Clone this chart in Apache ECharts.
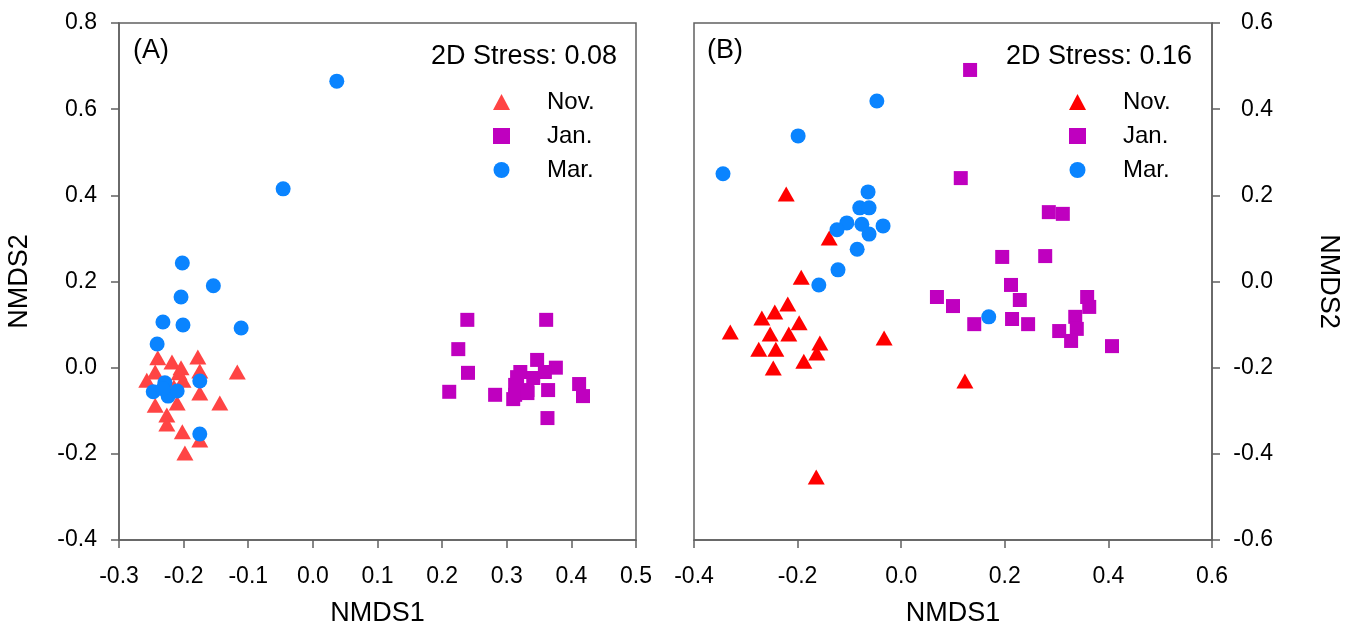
<!DOCTYPE html>
<html>
<head>
<meta charset="utf-8">
<script src="https://cdn.jsdelivr.net/npm/echarts@6/dist/echarts.min.js"></script>
<style>html,body{margin:0;padding:0;background:#fff}#c{width:1357px;height:637px}</style>
</head>
<body>
<div id="c"></div>
<script>
// Panel A
var xTicksA = [-0.3, 0.5, 0.1];   // min, max, interval
var yTicksA = [-0.4, 0.8, 0.2];
var A_nov = [[-0.240,0.023],[-0.218,0.013],[-0.178,0.025],[-0.244,-0.010],[-0.204,0.000],[-0.207,-0.012],[-0.175,-0.008],[-0.257,-0.029],[-0.201,-0.029],[-0.117,-0.010],[-0.175,-0.059],[-0.144,-0.082],[-0.244,-0.087],[-0.210,-0.082],[-0.226,-0.110],[-0.226,-0.131],[-0.202,-0.149],[-0.175,-0.168],[-0.198,-0.198],[-0.215,-0.045]];
var A_jan = [[0.239,0.111],[0.361,0.111],[0.225,0.043],[0.240,-0.012],[0.211,-0.056],[0.282,-0.063],[0.347,0.018],[0.376,0.000],[0.359,-0.010],[0.321,-0.010],[0.316,-0.022],[0.341,-0.024],[0.313,-0.040],[0.332,-0.052],[0.313,-0.063],[0.310,-0.073],[0.332,-0.059],[0.364,-0.052],[0.412,-0.038],[0.418,-0.066],[0.363,-0.117]];
var A_mar = [[0.037,0.665],[-0.046,0.415],[-0.202,0.243],[-0.154,0.190],[-0.204,0.164],[-0.232,0.106],[-0.201,0.099],[-0.111,0.092],[-0.241,0.055],[-0.175,-0.031],[-0.175,-0.154],[-0.229,-0.035],[-0.247,-0.056],[-0.224,-0.066],[-0.210,-0.054],[-0.232,-0.049]];
// Panel B
var xTicksB = [-0.4, 0.6, 0.2];
var yTicksB = [-0.6, 0.6, 0.2];
var B_nov = [[-0.222,0.203],[-0.139,0.101],[-0.193,0.010],[-0.219,-0.052],[-0.244,-0.071],[-0.269,-0.085],[-0.197,-0.096],[-0.330,-0.117],[-0.253,-0.122],[-0.217,-0.122],[-0.033,-0.131],[-0.157,-0.143],[-0.275,-0.157],[-0.242,-0.157],[-0.163,-0.166],[-0.188,-0.185],[-0.247,-0.201],[-0.164,-0.454],[0.123,-0.231]];
var B_jan = [[0.133,0.491],[0.115,0.240],[0.285,0.161],[0.312,0.157],[0.195,0.057],[0.278,0.059],[0.212,-0.008],[0.069,-0.036],[0.229,-0.043],[0.359,-0.036],[0.100,-0.057],[0.363,-0.059],[0.336,-0.082],[0.214,-0.087],[0.245,-0.099],[0.141,-0.099],[0.339,-0.110],[0.305,-0.115],[0.328,-0.138],[0.407,-0.150]];
var B_mar = [[-0.344,0.250],[-0.199,0.338],[-0.047,0.419],[-0.064,0.208],[-0.080,0.171],[-0.062,0.171],[-0.105,0.136],[-0.076,0.133],[-0.035,0.129],[-0.124,0.120],[-0.062,0.110],[-0.085,0.075],[-0.122,0.027],[-0.159,-0.008],[0.169,-0.082]];
var seriesNames = ['Nov.', 'Jan.', 'Mar.'];
var texts = {a: '(A)', b: '(B)', sa: '2D Stress: 0.08', sb: '2D Stress: 0.16', x: 'NMDS1', y: 'NMDS2'};

var FONT = '"Liberation Sans", Arial, sans-serif';
var LC = '#606060';
var cRedA = '#FF4444', cRedB = '#FF0000', cMag = '#BF00BF', cBlue = '#0A84FF';
function fmt(v){ return (Math.round(v*10)/10).toFixed(1); }
function xa(grid, t, extra){
  return Object.assign({
    type:'value', gridIndex:grid, min:t[0], max:t[1], interval:t[2],
    name:texts.x, nameLocation:'middle', nameGap:60,
    nameTextStyle:{fontFamily:FONT, fontSize:27, color:'#000'},
    axisLine:{show:true, onZero:false, lineStyle:{color:LC, width:1.5}},
    axisTick:{show:true, inside:false, length:8, lineStyle:{color:LC, width:1.5}},
    axisLabel:{fontFamily:FONT, fontSize:23, color:'#000', margin:25, formatter:fmt},
    splitLine:{show:false}
  }, extra||{});
}
function ya(grid, t, pos, extra){
  return Object.assign({
    type:'value', gridIndex:grid, min:t[0], max:t[1], interval:t[2], position:pos,
    name:texts.y, nameLocation:'middle',
    nameTextStyle:{fontFamily:FONT, fontSize:27, color:'#000'},
    axisLine:{show:true, onZero:false, lineStyle:{color:LC, width:1.5}},
    axisTick:{show:true, inside:false, length:8, lineStyle:{color:LC, width:1.5}},
    splitLine:{show:false}
  }, extra||{});
}
function sc(name, data, xi, sym, size, color){
  return {type:'scatter', name:name, xAxisIndex:xi, yAxisIndex:xi, data:data,
    symbol:sym, symbolSize:size, itemStyle:{color:color, opacity:1}, emphasis:{disabled:true}, z:2};
}
function leg(left, colors){
  var icons = ['triangle','rect','circle'];
  return {
    orient:'vertical', left:left, top:85, itemGap:10, itemWidth:17, itemHeight:16,
    selectedMode:false,
    textStyle:{fontFamily:FONT, fontSize:24, color:'#000', lineHeight:24, padding:[0,0,0,32]},
    data: seriesNames.map(function(n,i){ return {name:n, icon:icons[i], itemStyle:{color:colors[i]}}; })
  };
}
var chart = echarts.init(document.getElementById('c'), null, {renderer:'canvas'});
chart.setOption({
  animation:false,
  backgroundColor:'#fff',
  grid:[
    {left:119, right:1357-636, top:23, bottom:637-540, show:true, borderColor:LC, borderWidth:1.5, backgroundColor:'transparent'},
    {left:694, right:1357-1212, top:23, bottom:637-540, show:true, borderColor:LC, borderWidth:1.5, backgroundColor:'transparent'}
  ],
  xAxis:[ xa(0, xTicksA), xa(1, xTicksB) ],
  yAxis:[
    ya(0, yTicksA, 'left', {nameGap:86, nameRotate:90, axisLabel:{fontFamily:FONT, fontSize:23, color:'#000', margin:22, formatter:fmt}}),
    ya(1, yTicksB, 'right', {nameGap:103, nameRotate:-90, axisLabel:{fontFamily:FONT, fontSize:23, color:'#000', margin:61, align:'right', formatter:fmt}})
  ],
  legend:[ leg(488, [cRedA, cMag, cBlue]), leg(1064, [cRedB, cMag, cBlue]) ],
  series:[
    sc('Nov.', A_nov, 0, 'triangle', [17,15], cRedA),
    sc('Jan.', A_jan, 0, 'rect', 14, cMag),
    sc('Mar.', A_mar, 0, 'circle', 15, cBlue),
    sc('Nov.', B_nov, 1, 'triangle', [17,15], cRedB),
    sc('Jan.', B_jan, 1, 'rect', 14, cMag),
    sc('Mar.', B_mar, 1, 'circle', 15, cBlue)
  ],
  graphic:[
    {type:'text', left:133, top:37, style:{text:texts.a, font:'27px '+FONT, fill:'#000'}},
    {type:'text', left:707, top:37, style:{text:texts.b, font:'27px '+FONT, fill:'#000'}},
    {type:'text', x:617, y:57, style:{text:texts.sa, font:'27px '+FONT, fill:'#000', textAlign:'right', textVerticalAlign:'middle'}},
    {type:'text', x:1192, y:57, style:{text:texts.sb, font:'27px '+FONT, fill:'#000', textAlign:'right', textVerticalAlign:'middle'}}
  ]
});
</script>
</body>
</html>
